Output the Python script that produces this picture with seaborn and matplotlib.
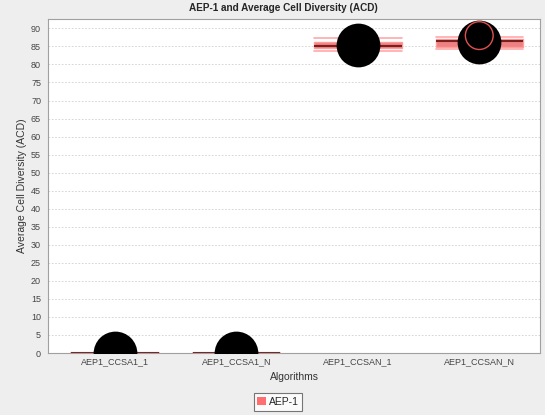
import pandas as pd
import seaborn as sns
from matplotlib import pyplot as plt
from matplotlib.patches import Patch

# five-point samples per algorithm -> min, q1, median, q3, max
algorithms = ["AEP1_CCSA1_1", "AEP1_CCSA1_N", "AEP1_CCSAN_1", "AEP1_CCSAN_N"]
ccsa1_1 = [0.0, 0.0, 0.0, 0.0, 0.0]
ccsa1_n = [0.0, 0.0, 0.0, 0.0, 0.0]
ccsan_1 = [83.7, 84.5, 85.1, 86.3, 87.3]
ccsan_n = [84.2, 84.8, 86.6, 87.1, 87.7]
means = [0.0, 0.0, 85.4, 86.3]
outlier_alg = ["AEP1_CCSAN_N"]
outlier_val = [88.0]

samples = [ccsa1_1, ccsa1_n, ccsan_1, ccsan_n]
df = pd.DataFrame({
    "Algorithms": [a for a, s in zip(algorithms, samples) for _ in s],
    "ACD": [v for s in samples for v in s],
})
df_mean = pd.DataFrame({"Algorithms": algorithms, "ACD": means})
df_out = pd.DataFrame({"Algorithms": outlier_alg, "ACD": outlier_val})

sns.set_style("white")
plt.rcParams["font.family"] = ["Liberation Sans", "DejaVu Sans"]

fig = plt.figure(figsize=(5.45, 4.15), dpi=100, facecolor="#eeeeee")
ax = fig.add_axes([48 / 545, 62 / 415, 492 / 545, 334 / 415])
ax.set_facecolor("white")

sns.boxplot(data=df, x="Algorithms", y="ACD", order=algorithms, ax=ax,
            whis=(0, 100), width=0.72, color="#ff6f6f", linecolor="#ff9c9c",
            linewidth=1.0, fliersize=0, capwidths=0.72,
            medianprops={"color": "#7a1f1f", "linewidth": 1.5},
            capprops={"color": "#ffa8a8", "linewidth": 1.2},
            whiskerprops={"color": "#ffa8a8"},
            zorder=2)

# mean markers (big black discs)
sns.stripplot(data=df_mean, x="Algorithms", y="ACD", order=algorithms, ax=ax,
              jitter=False, color="black", size=31.5, linewidth=0, zorder=3)

sns.stripplot(data=df_out, x="Algorithms", y="ACD", order=algorithms, ax=ax,
              jitter=False, color="#e05050", size=20, linewidth=1.0,
              edgecolor="#e05050", zorder=4)
ax.collections[-1].set_facecolor("none")

ax.set_xlim(-0.55, 3.5)
ax.set_ylim(0, 92.6)
ax.set_yticks(range(0, 95, 5))
ax.grid(axis="y", color="#d0d0d0", linestyle=(0, (2, 2)), linewidth=0.6)
ax.set_axisbelow(True)
for sp in ax.spines.values():
    sp.set_color("#a0a0a0")
    sp.set_linewidth(0.8)
ax.tick_params(axis="both", labelsize=6.5, colors="#444444", length=2,
               width=0.6, direction="out")
ax.tick_params(axis="x", length=0, pad=3)
ax.tick_params(axis="y", pad=3)

ax.set_xlabel("Algorithms", fontsize=7.5, color="#333333", labelpad=4)
ax.set_ylabel("Average Cell Diversity (ACD)", fontsize=7.5, color="#333333",
              labelpad=3)
fig.text(283 / 545, 1 - 8 / 415, "AEP-1 and Average Cell Diversity (ACD)",
         ha="center", va="center", fontsize=7.2, fontweight="bold")

handle = Patch(facecolor="#ff6f6f", edgecolor="none", label="AEP-1")
leg = fig.legend(handles=[handle], loc="center",
                 bbox_to_anchor=(278 / 545, 1 - 402 / 415), fontsize=7.5,
                 frameon=True, fancybox=False, handlelength=0.8,
                 handleheight=0.8, handletextpad=0.3, borderpad=0.35)
leg.get_frame().set_edgecolor("#555555")
leg.get_frame().set_linewidth(0.8)
leg.get_frame().set_facecolor("white")

fig.savefig("out.png", dpi=100, facecolor=fig.get_facecolor())
